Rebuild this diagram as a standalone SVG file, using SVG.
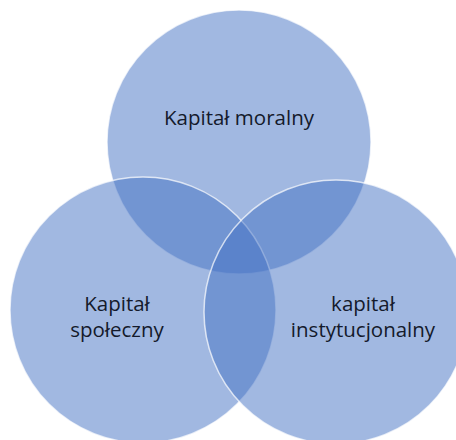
<svg xmlns="http://www.w3.org/2000/svg" width="456" height="440" viewBox="0 0 456 440">
<style>
.c{fill:#4472C4;fill-opacity:0.5;stroke:#ffffff;stroke-opacity:0.7;stroke-width:1.5}
.t{font-family:"Open Sans","Liberation Sans",sans-serif;font-size:20.5px;fill:#141a2b;text-anchor:middle}
</style>
<rect width="456" height="440" fill="#ffffff"/>
<g id="moralny">
<circle class="c" cx="239" cy="142" r="132"/>
<text class="t" x="239" y="125">Kapitał moralny</text>
</g>
<g id="spoleczny">
<circle class="c" cx="143" cy="310" r="133"/>
<text class="t" x="117" y="311">Kapitał</text>
<text class="t" x="117" y="337">społeczny</text>
</g>
<g id="instytucjonalny">
<circle class="c" cx="336" cy="312" r="132"/>
<text class="t" x="363" y="311">kapitał</text>
<text class="t" x="363" y="337">instytucjonalny</text>
</g>
<g id="connectors"/>
</svg>
